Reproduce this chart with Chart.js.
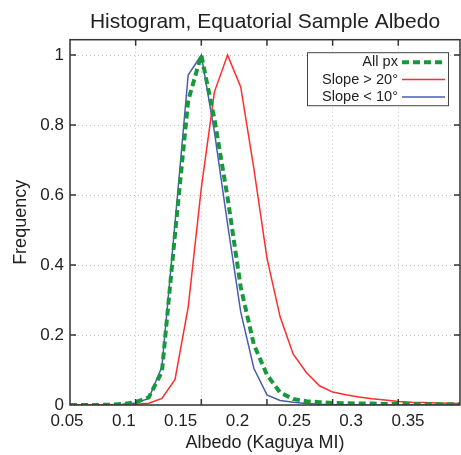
<!DOCTYPE html>
<html><head><meta charset="utf-8">
<script src="https://cdn.jsdelivr.net/npm/chart.js@4.4.1/dist/chart.umd.min.js"></script>
<style>html,body{margin:0;padding:0;background:#fff}#wrap{width:461px;height:455px}</style>
</head><body><div id="wrap"><canvas id="c"></canvas></div>
<script>
const ALBEDO = [0.05,0.06,0.07,0.08,0.09,0.10,0.11,0.12,0.13,0.14,0.15,0.16,0.17,0.18,0.19,0.20,0.21,0.22,0.23,0.24,0.25,0.26,0.27,0.28,0.29,0.30,0.31,0.32,0.33,0.34,0.35];
const ALL_PX     = [0,0,0,0.001,0.003,0.008,0.022,0.095,0.49,0.87,1.0,0.817,0.593,0.337,0.173,0.086,0.036,0.017,0.011,0.008,0.006,0.005,0.004,0.004,0.003,0.003,0.002,0.002,0.002,0.002,0.002];
const SLOPE_GT20 = [0,0,0,0,0.001,0.002,0.005,0.019,0.073,0.28,0.62,0.895,1.0,0.909,0.676,0.42,0.252,0.145,0.093,0.055,0.037,0.029,0.023,0.018,0.014,0.010,0.008,0.007,0.006,0.005,0.004];
const SLOPE_LT10 = [0,0,0,0.001,0.002,0.006,0.019,0.109,0.52,0.943,1.0,0.78,0.517,0.266,0.105,0.029,0.013,0.008,0.004,0.002,0.001,0.001,0,0,0,0,0,0,0,0,0];
const SERIES_LABELS = ['All px','Slope > 20°','Slope < 10°'];
const X_GRID_TICKS = [0.05,0.1,0.15,0.2,0.25,0.3];
const X_TICK_VALUES = [0.05,0.1,0.15,0.2,0.25,0.3,0.35];
const X_TICK_LABELS = ['0.05','0.1','0.15','0.2','0.25','0.3','0.35'];
const Y_TICK_VALUES = [0,0.2,0.4,0.6,0.8,1];
const Y_TICK_LABELS = ['0','0.2','0.4','0.6','0.8','1'];

const FONT = "'Liberation Sans', Arial, Helvetica, sans-serif";
const TEXT = '#222';
Chart.defaults.font.family = FONT;
Chart.defaults.color = TEXT;

const pts = arr => ALBEDO.map((a, i) => ({x: a, y: arr[i]}));

const framePlugin = {
  id: 'frame',
  afterDraw(chart) {
    const {ctx, chartArea: a, scales} = chart;
    ctx.save();
    ctx.strokeStyle = '#333';
    ctx.lineWidth = 1.5;
    ctx.strokeRect(a.left, a.top, a.right - a.left, a.bottom - a.top);
    const L = 6;
    ctx.beginPath();
    scales.x.ticks.forEach(t => {
      const px = scales.x.getPixelForValue(t.value);
      if (px <= a.left + 1 || px >= a.right - 1) return;
      ctx.moveTo(px, a.bottom); ctx.lineTo(px, a.bottom - L);
      ctx.moveTo(px, a.top); ctx.lineTo(px, a.top + L);
    });
    scales.y.ticks.forEach(t => {
      const py = scales.y.getPixelForValue(t.value);
      if (py >= a.bottom - 1) return;
      ctx.moveTo(a.left, py); ctx.lineTo(a.left + L, py);
      ctx.moveTo(a.right, py); ctx.lineTo(a.right - L, py);
    });
    ctx.stroke();

    // legend box
    const bx1 = a.right - 153, bx2 = a.right - 12, by1 = a.top + 12.5, by2 = a.top + 65.5;
    ctx.fillStyle = '#fff';
    ctx.fillRect(bx1, by1, bx2 - bx1, by2 - by1);
    ctx.strokeStyle = '#444';
    ctx.lineWidth = 1;
    ctx.strokeRect(bx1 + 0.5, by1 + 0.5, bx2 - bx1, by2 - by1);
    ctx.font = '14.6px ' + FONT;
    ctx.textAlign = 'right';
    ctx.textBaseline = 'middle';
    chart.data.datasets.forEach((ds, i) => {
      const y = by1 + 10 + i * 17.4;
      ctx.fillStyle = TEXT;
      ctx.fillText(ds.label, bx2 - 50, y);
      ctx.save();
      ctx.strokeStyle = ds.borderColor;
      ctx.lineWidth = ds.borderWidth;
      ctx.setLineDash(ds.borderDash || []);
      ctx.beginPath();
      ctx.moveTo(bx2 - 46, y); ctx.lineTo(bx2 - 3, y);
      ctx.stroke();
      ctx.restore();
    });
    ctx.restore();
  }
};

new Chart(document.getElementById('c'), {
  type: 'line',
  data: {
    datasets: [
      {label: SERIES_LABELS[0], data: pts(ALL_PX), borderColor: '#17993b', borderWidth: 4, borderDash: [7, 4], pointRadius: 0, tension: 0, fill: false},
      {label: SERIES_LABELS[1], data: pts(SLOPE_GT20), borderColor: '#ff2d2d', borderWidth: 1.5, pointRadius: 0, tension: 0, fill: false},
      {label: SERIES_LABELS[2], data: pts(SLOPE_LT10), borderColor: '#4a5db3', borderWidth: 1.5, pointRadius: 0, tension: 0, fill: false}
    ]
  },
  options: {
    responsive: true, maintainAspectRatio: false, animation: false,
    layout: {padding: {left: 0, right: 1, top: 0, bottom: 0}},
    plugins: {
      legend: {display: false},
      tooltip: {enabled: false},
      title: {display: true, text: 'Histogram, Equatorial Sample Albedo', fullSize: false,
              font: {size: 21, weight: 'normal'}, color: TEXT, padding: {top: 10, bottom: 4.5}}
    },
    scales: {
      x: {type: 'linear', position: 'bottom', min: 0.05, max: 0.347, weight: 0,
          afterBuildTicks: s => { s.ticks = X_GRID_TICKS.map(v => ({value: v})); },
          afterFit: s => { s.height = 0; },
          ticks: {display: false},
          grid: {color: '#c2c2c2', lineWidth: 1, drawTicks: false},
          border: {display: false, dash: [1, 3]}},
      x2: {type: 'linear', position: 'bottom', min: 0.05264, max: 0.39575, weight: 1,
          afterBuildTicks: s => { s.ticks = X_TICK_VALUES.map(v => ({value: v})); },
          afterFit: s => { s.height = 50; },
          grid: {display: false, drawTicks: false},
          border: {display: false},
          ticks: {font: {size: 17}, padding: 6, maxRotation: 0, autoSkip: false, color: TEXT,
                  callback: (v, i) => X_TICK_LABELS[i]},
          title: {display: true, text: 'Albedo (Kaguya MI)', font: {size: 18}, color: TEXT, padding: {top: 0, bottom: 1}}},
      y: {type: 'linear', min: 0, max: 1.044,
          afterBuildTicks: s => { s.ticks = Y_TICK_VALUES.map(v => ({value: v})); },
          afterFit: s => { s.width = 70; },
          grid: {color: '#c2c2c2', lineWidth: 1, drawTicks: false},
          border: {display: false, dash: [1, 3]},
          ticks: {font: {size: 17}, padding: 6, color: TEXT, callback: (v, i) => Y_TICK_LABELS[i]},
          title: {display: true, text: 'Frequency', font: {size: 18}, color: TEXT, padding: {top: 10, bottom: 0}}}
    }
  },
  plugins: [framePlugin]
});
</script>
</body></html>
